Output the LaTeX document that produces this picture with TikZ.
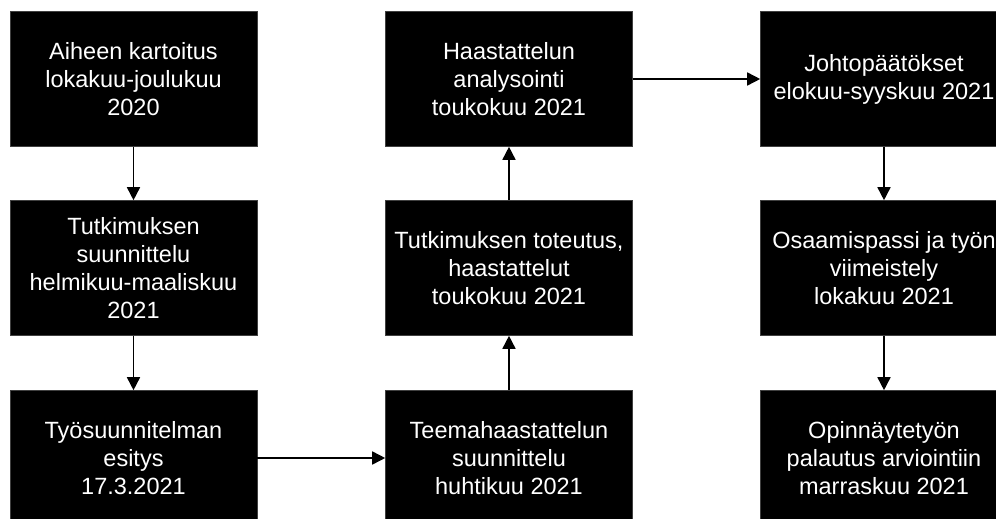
\documentclass[tikz,border=0pt]{standalone}
\usepackage{fontspec}
\setmainfont{Liberation Sans}
\usetikzlibrary{arrows.meta}

\tikzset{
  vaihe/.style={fill=black, draw=black!75, line width=0.6pt, text=white,
    minimum width=247pt, minimum height=135pt, align=center,
    font=\fontsize{23.5}{28}\selectfont},
  nuoli/.style={line width=1.6pt, -{Triangle[length=13pt,width=13pt]}}
}

\begin{document}
\begin{tikzpicture}[x=1pt, y=-1pt]
  \useasboundingbox (0,0) rectangle (996,519);
  \clip (0,0) rectangle (996,519);
  % vasen sarake
  \node[vaihe] (aihe) at (133.5,79) {Aiheen kartoitus\\lokakuu-joulukuu\\2020};
  \node[vaihe] (suunnittelu) at (133.5,268) {Tutkimuksen\\suunnittelu\\helmikuu-maaliskuu\\2021};
  \node[vaihe] (esitys) at (133.5,458) {Työsuunnitelman\\esitys\\17.3.2021};
  % keskimmäinen sarake
  \node[vaihe] (teema) at (509,458) {Teemahaastattelun\\suunnittelu\\huhtikuu 2021};
  \node[vaihe] (toteutus) at (509,268) {Tutkimuksen toteutus,\\haastattelut\\toukokuu 2021};
  \node[vaihe] (analyysi) at (509,79) {Haastattelun\\analysointi\\toukokuu 2021};
  % oikea sarake
  \node[vaihe] (johto) at (884,79) {Johtopäätökset\\elokuu-syyskuu 2021};
  \node[vaihe] (osaamis) at (884,268) {Osaamispassi ja työn\\viimeistely\\lokakuu 2021};
  \node[vaihe] (palautus) at (884,458) {Opinnäytetyön\\palautus arviointiin\\marraskuu 2021};
  \draw[nuoli] (aihe) -- (suunnittelu);
  \draw[nuoli] (suunnittelu) -- (esitys);
  \draw[nuoli] (esitys) -- (teema);
  \draw[nuoli] (teema) -- (toteutus);
  \draw[nuoli] (toteutus) -- (analyysi);
  \draw[nuoli] (analyysi) -- (johto);
  \draw[nuoli] (johto) -- (osaamis);
  \draw[nuoli] (osaamis) -- (palautus);
\end{tikzpicture}
\end{document}
